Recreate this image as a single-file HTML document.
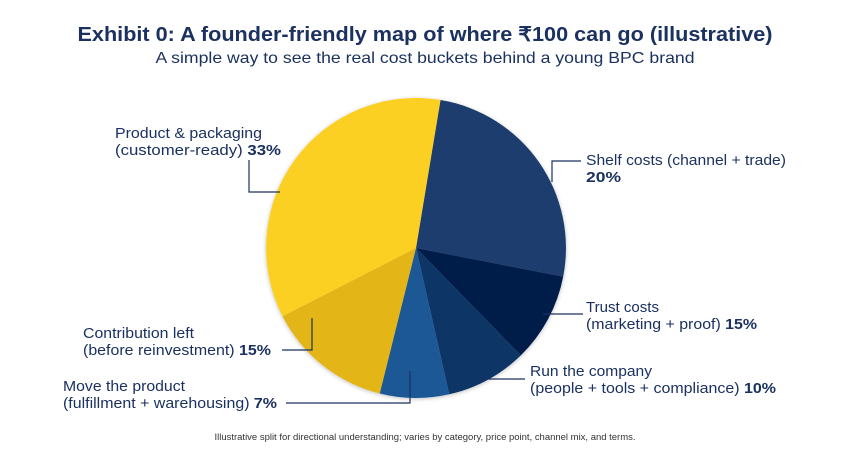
<!DOCTYPE html>
<html><head><meta charset="utf-8"><style>
html,body{margin:0;padding:0;background:#fff;}
svg{display:block;font-family:"Liberation Sans",sans-serif;}
</style></head><body>
<svg width="850" height="450" viewBox="0 0 850 450" xmlns="http://www.w3.org/2000/svg">
<defs><filter id="sh" x="-10%" y="-10%" width="120%" height="120%"><feGaussianBlur in="SourceAlpha" stdDeviation="2"/><feOffset dx="0" dy="1"/><feComponentTransfer><feFuncA type="linear" slope="0.25"/></feComponentTransfer><feMerge><feMergeNode/><feMergeNode in="SourceGraphic"/></feMerge></filter></defs>
<text x="425" y="41" text-anchor="middle" font-size="20" font-weight="bold" fill="#1b3160" textLength="695" lengthAdjust="spacingAndGlyphs">Exhibit 0: A founder-friendly map of where ₹100 can go (illustrative)</text>
<text x="425" y="63" text-anchor="middle" font-size="16" fill="#1b3160" textLength="539" lengthAdjust="spacingAndGlyphs">A simple way to see the real cost buckets behind a young BPC brand</text>
<g filter="url(#sh)">
<path d="M416 248 L440.5 100 A150 150 0 0 1 563.2 276.6 Z" fill="#1f3d6d"/>
<path d="M416 248 L563.2 276.6 A150 150 0 0 1 520.8 355.4 Z" fill="#041e4a"/>
<path d="M416 248 L520.8 355.4 A150 150 0 0 1 449.2 394.3 Z" fill="#0c3566"/>
<path d="M416 248 L449.2 394.3 A150 150 0 0 1 379.7 393.5 Z" fill="#1d5896"/>
<path d="M416 248 L379.7 393.5 A150 150 0 0 1 282.5 316.3 Z" fill="#e3b512"/>
<path d="M416 248 L282.5 316.3 A150 150 0 0 1 440.5 100 Z" fill="#fcd024"/>
</g>
<g stroke="#1b3160" stroke-width="1.2" fill="none">
<polyline points="249,160 249,192 280,192"/>
<polyline points="282,350 312,350 312,318"/>
<polyline points="286,403 410,403 410,371"/>
<polyline points="483,379 525,379"/>
<polyline points="543,314 583,314"/>
<polyline points="552,182 552,161 581,161"/>
</g>
<g font-size="14.5" fill="#1b3160" lengthAdjust="spacingAndGlyphs">
<text x="115" y="138" textLength="147" lengthAdjust="spacingAndGlyphs">Product &amp; packaging</text>
<text x="115" y="155" textLength="166" lengthAdjust="spacingAndGlyphs">(customer-ready) <tspan font-weight="bold">33%</tspan></text>
<text x="83" y="338" textLength="111" lengthAdjust="spacingAndGlyphs">Contribution left</text>
<text x="83" y="355" textLength="188" lengthAdjust="spacingAndGlyphs">(before reinvestment) <tspan font-weight="bold">15%</tspan></text>
<text x="63" y="391" textLength="122" lengthAdjust="spacingAndGlyphs">Move the product</text>
<text x="63" y="408" textLength="214" lengthAdjust="spacingAndGlyphs">(fulfillment + warehousing) <tspan font-weight="bold">7%</tspan></text>
<text x="586" y="165" textLength="200" lengthAdjust="spacingAndGlyphs">Shelf costs (channel + trade)</text>
<text x="586" y="182" font-weight="bold" textLength="35" lengthAdjust="spacingAndGlyphs">20%</text>
<text x="586" y="312" textLength="73" lengthAdjust="spacingAndGlyphs">Trust costs</text>
<text x="586" y="329" textLength="171" lengthAdjust="spacingAndGlyphs">(marketing + proof) <tspan font-weight="bold">15%</tspan></text>
<text x="530" y="376" textLength="122" lengthAdjust="spacingAndGlyphs">Run the company</text>
<text x="530" y="393" textLength="246" lengthAdjust="spacingAndGlyphs">(people + tools + compliance) <tspan font-weight="bold">10%</tspan></text>
</g>
<text x="425" y="440" text-anchor="middle" font-size="9" fill="#333" textLength="421" lengthAdjust="spacingAndGlyphs">Illustrative split for directional understanding; varies by category, price point, channel mix, and terms.</text>
</svg>
</body></html>
